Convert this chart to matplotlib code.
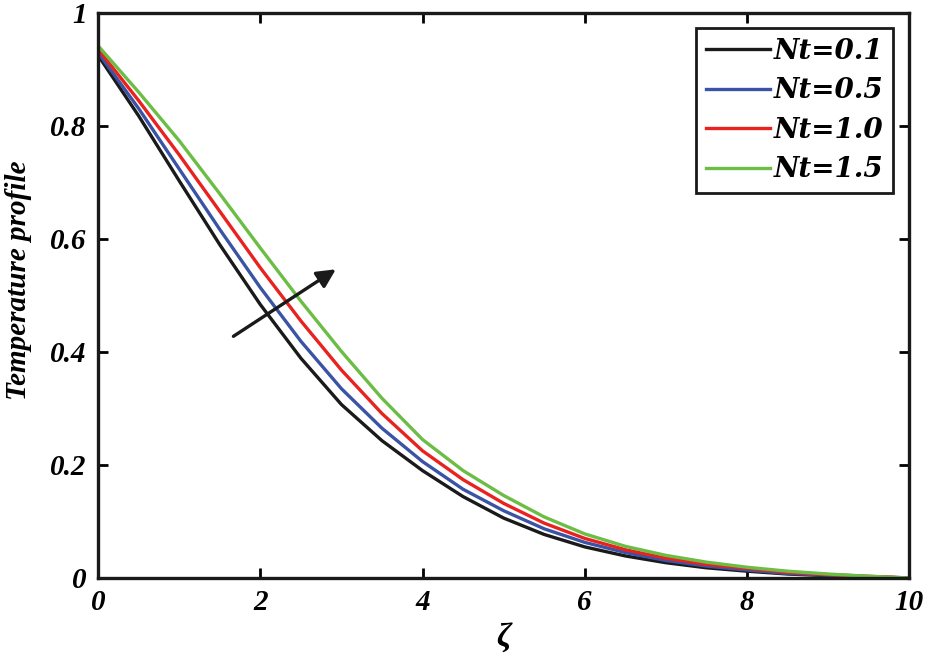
import numpy as np
import matplotlib as mpl
import matplotlib.pyplot as plt

mpl.rcParams['font.family'] = ['Liberation Serif', 'DejaVu Serif']
mpl.rcParams['font.weight'] = 'bold'
mpl.rcParams['font.style'] = 'italic'

zeta = [0, 0.5, 1, 1.5, 2, 2.5, 3, 3.5, 4, 4.5, 5, 5.5, 6, 6.5, 7, 7.5, 8, 8.5, 9, 9.5, 10]

nt_01 = [0.925, 0.818, 0.703, 0.590, 0.484, 0.389, 0.307, 0.243, 0.190, 0.144, 0.106, 0.077,
         0.055, 0.039, 0.027, 0.018, 0.012, 0.007, 0.004, 0.002, 0.0]
nt_05 = [0.930, 0.831, 0.724, 0.617, 0.514, 0.419, 0.335, 0.265, 0.206, 0.157, 0.119, 0.087,
         0.063, 0.045, 0.031, 0.021, 0.014, 0.008, 0.005, 0.002, 0.0]
nt_10 = [0.936, 0.845, 0.749, 0.649, 0.549, 0.455, 0.368, 0.291, 0.225, 0.174, 0.132, 0.097,
         0.070, 0.050, 0.035, 0.024, 0.017, 0.010, 0.006, 0.003, 0.0]
nt_15 = [0.942, 0.860, 0.774, 0.680, 0.584, 0.490, 0.401, 0.318, 0.245, 0.190, 0.146, 0.108,
         0.078, 0.056, 0.040, 0.028, 0.019, 0.012, 0.007, 0.003, 0.0]

labels = ['Nt=0.1', 'Nt=0.5', 'Nt=1.0', 'Nt=1.5']
colors = ['#1a1a1a', '#3a53a4', '#e8221f', '#6cbd45']

fig = plt.figure(figsize=(9.25, 6.55), dpi=100)
ax = fig.add_axes([0.106, 0.1176, 0.877, 0.8626])

for ys, lab, c in zip([nt_01, nt_05, nt_10, nt_15], labels, colors):
    ax.plot(zeta, ys, color=c, lw=2.4, label=lab)

ax.set_xlim(0, 10)
ax.set_ylim(0, 1)
ax.set_xticks([0, 2, 4, 6, 8, 10])
ax.set_yticks([0, 0.2, 0.4, 0.6, 0.8, 1])
ax.set_yticklabels(['0', '0.2', '0.4', '0.6', '0.8', '1'])
ax.tick_params(direction='in', length=7, width=2, labelsize=21, top=True, right=True, pad=8)
for s in ax.spines.values():
    s.set_linewidth(2.4)
    s.set_color('#1a1a1a')

ax.set_xlabel('ζ', fontsize=24, fontweight='bold', labelpad=4)
ax.set_ylabel('Temperature profile', fontsize=21, fontweight='bold')
ax.yaxis.set_label_coords(-0.082, 0.527)

ax.annotate('', xy=(2.96, 0.549), xytext=(1.64, 0.425),
            arrowprops=dict(arrowstyle='-|>', color='#1a1a1a', lw=2.4, mutation_scale=28))

leg = ax.legend(loc='upper right', bbox_to_anchor=(0.98, 0.973), borderaxespad=0,
                prop=dict(family='DejaVu Serif', weight='bold', style='italic', size=20),
                handlelength=2.3, handletextpad=0.15, labelspacing=0.45, borderpad=0.35,
                fancybox=False, edgecolor='#1a1a1a', framealpha=1)
leg.get_frame().set_linewidth(2)

fig.savefig('out.png', dpi=100)
